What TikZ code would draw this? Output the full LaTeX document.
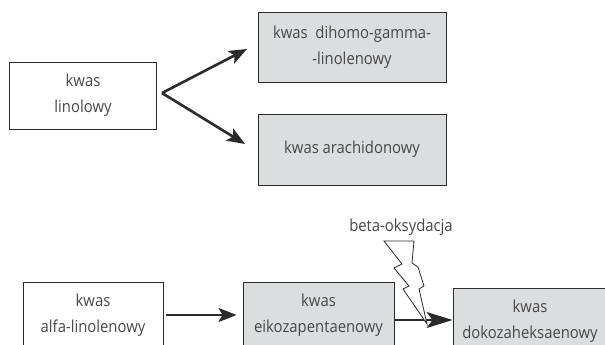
\documentclass[tikz,border=0pt]{standalone}
\usepackage{fontspec}
\setmainfont{Open Sans}[FakeStretch=0.9]
\usetikzlibrary{arrows.meta,calc}
\definecolor{boxfill}{HTML}{DCDDDE}
\definecolor{edge}{HTML}{2B2B2B}
\definecolor{txt}{HTML}{474747}
\begin{document}
\begin{tikzpicture}[x=1pt,y=-1pt,
  plain/.style={draw=edge,line width=0.9pt,inner sep=0pt,align=center,text=txt,
    font=\fontsize{16.5}{26}\selectfont},
  shaded/.style={plain,fill=boxfill},
  thickarrow/.style={draw=edge,line width=2.6pt,-{Stealth[length=18pt,width=14pt,inset=4pt]}},
  thinarrow/.style={draw=edge,line width=1.1pt,-{Stealth[length=26pt,width=16pt,inset=6pt]}},
  lbl/.style={text=txt,font=\fontsize{16.5}{18}\selectfont,inner sep=0pt}]
\clip (0,0) rectangle (605,345);
\fill[white] (0,0) rectangle (605,345);
% top group
\node[plain,minimum width=147pt,minimum height=67pt] (lin) at (83,95.5) {kwas\\linolowy};
\node[shaded,minimum width=188pt,minimum height=70pt] (dgla) at (352,47) {kwas\ \ dihomo-gamma-\\-linolenowy};
\node[shaded,minimum width=188pt,minimum height=71pt] (ara) at (352,149.5) {kwas arachidonowy};
\coordinate (fork) at (162,93);
\coordinate (tipA) at (247,49);
\coordinate (tipB) at (245,144);
\draw[thickarrow] (fork) -- (tipA);
\draw[thickarrow] (fork) -- (tipB);
% bottom group
\node[plain,minimum width=140pt,minimum height=66pt] (ala) at (93,315) {kwas\\alfa-linolenowy};
\node[shaded,minimum width=151pt,minimum height=66pt] (epa) at (318.5,315) {kwas\\eikozapentaenowy};
\node[shaded,minimum width=154pt,minimum height=66pt,text width=150pt] (dha) at (530,321) {kwas\\dokozaheksaenowy};
\draw[thickarrow,shorten <=3pt,shorten >=6pt] (ala.east) -- (ala.east -| epa.west);
\coordinate (e1) at ($(epa.east)+(0,5)$);
\draw[thinarrow] (e1) -- (e1 -| dha.west);
% beta-oxidation lightning
\node[lbl] (beta) at (401,227) {beta-oksydacja};
\filldraw[fill=white,draw=edge,line width=0.8pt,line join=miter]
  (384,241) -- (414,241) -- (412,263) -- (418,267) -- (424,286) -- (419,289)
  -- (427,324) -- (403,289) -- (409,286) -- (394,268) -- (402,264) -- cycle;
\end{tikzpicture}
\end{document}
